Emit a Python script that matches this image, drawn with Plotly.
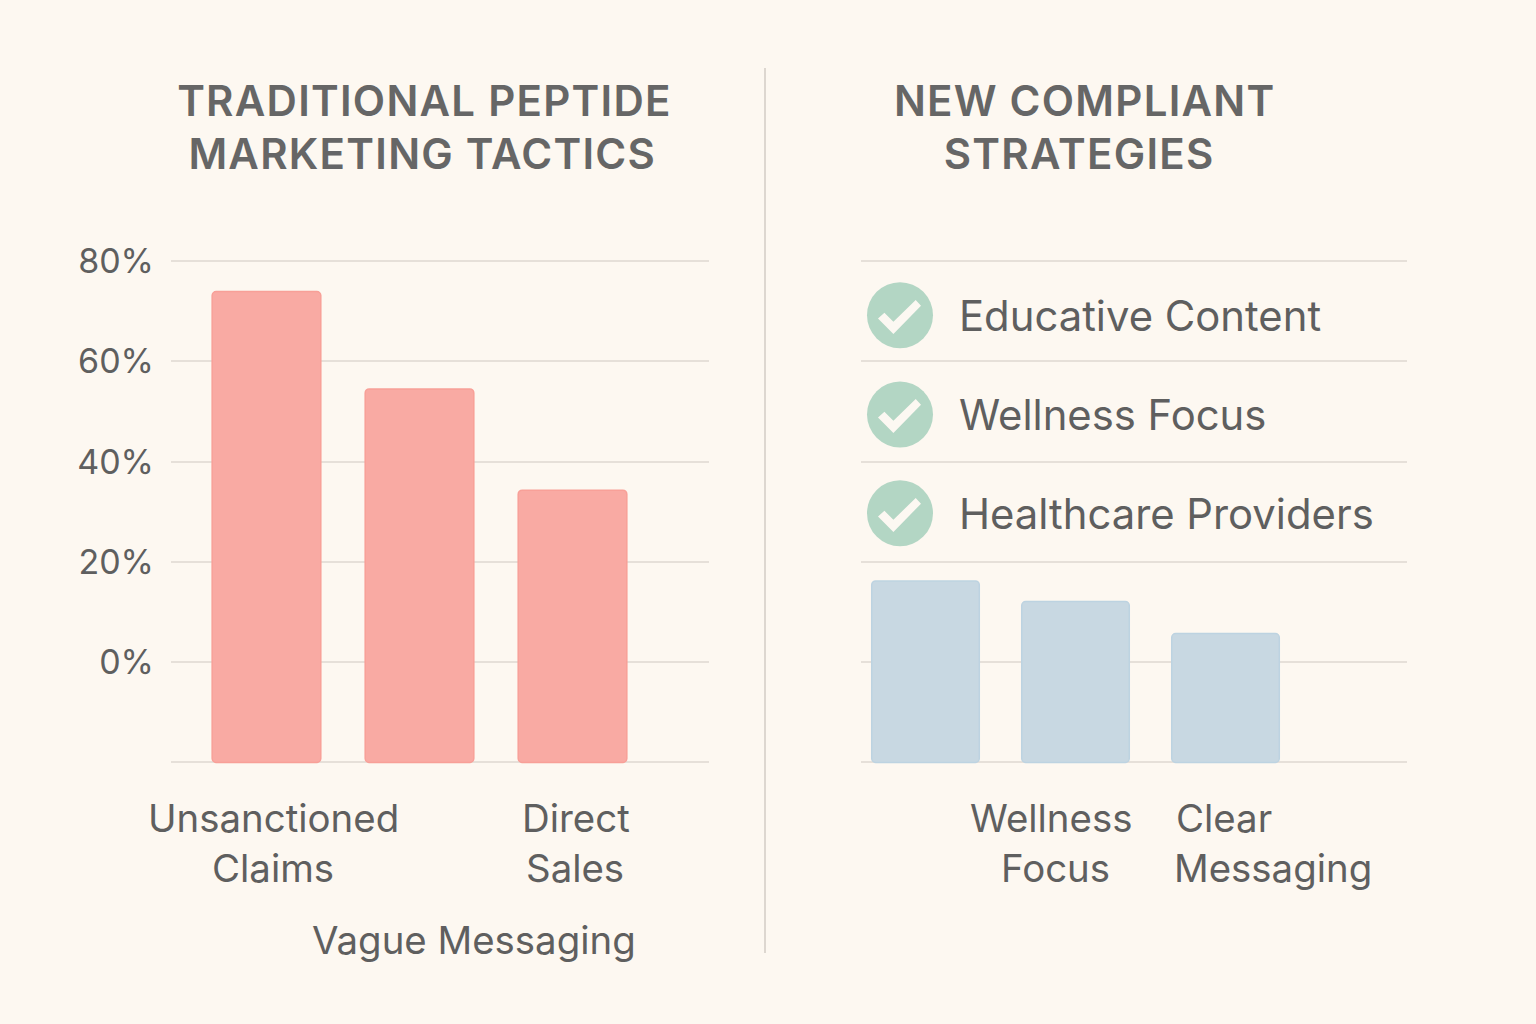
import plotly.graph_objects as go

# values
traditional_tactics = ["Unsanctioned Claims", "Vague Messaging", "Direct Sales"]
traditional_values = [73.9, 54.5, 34.3]
compliant_tactics = ["", "Wellness Focus", "Clear Messaging"]
compliant_values = [16.2, 12.1, 5.7]
strategies = ["Educative Content", "Wellness Focus", "Healthcare Providers"]
strategy_levels = [69.2, 49.4, 29.7]
tick_vals = [-20, 0, 20, 40, 60, 80]
tick_text = ["", "0%", "20%", "40%", "60%", "80%"]

W, H = 1536, 1024
BG = "#FDF8F1"
GRID = "#E6E0D9"
TEXT = "#5F5F5F"
FLOOR = -20


def px(x):
    return x / W


def py(y):
    return 1 - y / H


fig = go.Figure()

# left panel
fig.add_trace(go.Bar(
    x=[0, 1, 2], y=[v - FLOOR for v in traditional_values], base=FLOOR, width=0.71,
    marker=dict(color="#F9AAA3", line=dict(color="#F8A098", width=1.5)),
    text=traditional_tactics, textposition="none", hoverinfo="text+y",
    xaxis="x", yaxis="y",
))
# right panel
fig.add_trace(go.Bar(
    x=[0, 1, 2], y=[v - FLOOR for v in compliant_values], base=FLOOR, width=0.717,
    marker=dict(color="#C8D8E2", line=dict(color="#BDD3E1", width=1.5)),
    xaxis="x2", yaxis="y2",
))
# green circles of the checklist
fig.add_trace(go.Scatter(
    x=[-0.17] * len(strategies), y=strategy_levels, mode="markers",
    marker=dict(color="#B3D6C4", size=66, line=dict(width=0)),
    hovertext=strategies, hoverinfo="text",
    xaxis="x2", yaxis="y2",
))

y_range = [-22, 82]
y_domain = [py(772.5), py(251)]
fig.update_layout(
    width=W, height=H, margin=dict(l=0, r=0, t=0, b=0),
    paper_bgcolor=BG, plot_bgcolor=BG, showlegend=False, barcornerradius=4,
    font=dict(family="Inter", color=TEXT),
    xaxis=dict(domain=[px(171), px(709)], range=[-0.624, 2.892], visible=False, automargin=False),
    yaxis=dict(domain=y_domain, range=y_range, tickvals=tick_vals, ticktext=tick_text,
               gridcolor=GRID, gridwidth=2, zeroline=False, showline=False, automargin=False,
               ticks="", ticklabelstandoff=16, tickfont=dict(size=34, color=TEXT)),
    xaxis2=dict(domain=[px(861), px(1407)], range=[-0.43, 3.21], visible=False, automargin=False),
    yaxis2=dict(domain=y_domain, range=y_range, tickvals=tick_vals, showticklabels=False,
                gridcolor=GRID, gridwidth=2, zeroline=False, showline=False, ticks="",
                anchor="x2", automargin=False),
)

# divider between panels
fig.add_shape(type="line", xref="paper", yref="paper", x0=px(765), x1=px(765),
              y0=py(68), y1=py(953), line=dict(color="#DDD7D0", width=2))

# white ticks inside the circles
check = [(-21.7, 2.7), (-15.3, -3), (-6.3, 6), (16, -15.7), (21.3, -10), (-6.3, 18.3)]
for lvl_y in (315.7, 414.7, 513.7):
    path = "M " + " L ".join(f"{px(899.7 + a)} {py(lvl_y + b)}" for a, b in check) + " Z"
    fig.add_shape(type="path", xref="paper", yref="paper", path=path,
                  fillcolor="#FCF8F2", line=dict(width=0))


def label(text, x, y, size, **kw):
    fig.add_annotation(text=text, x=px(x), y=py(y), xref="paper", yref="paper",
                       showarrow=False, xanchor=kw.pop("xanchor", "center"), yanchor="middle",
                       font=dict(size=size, family="Inter", color=kw.pop("color", TEXT),
                                 weight=kw.pop("weight", 400)))


# panel titles
label("TRADITIONAL PEPTIDE", 424, 100, 42, weight=600, color="#666666")
label("MARKETING TACTICS", 422, 153, 42, weight=600, color="#666666")
label("NEW COMPLIANT", 1084, 100, 42, weight=600, color="#666666")
label("STRATEGIES", 1079, 153, 42, weight=600, color="#666666")

# category labels, placed by hand like in the picture
label("Unsanctioned", 273, 818, 38.4)
label("Claims", 273, 868, 38.4)
label("Direct", 576, 818, 38.4)
label("Sales", 575, 868, 38.4)
label("Vague Messaging", 474, 940, 38.4)
label("Wellness", 1051, 818, 38.4)
label("Focus", 1055, 868, 38.4)
label("Clear", 1174, 818, 38.4, xanchor="left")
label("Messaging", 1172, 868, 38.4, xanchor="left")

# checklist
for name, lvl_y in zip(strategies, (316, 415, 514)):
    label(name, 957, lvl_y, 41.8, xanchor="left")

post = """
document.body.style.margin = '0';
document.body.style.background = '%s';
function spaceTitles() {
  document.querySelectorAll('.annotation-text').forEach(function (t) {
    if (t.textContent === t.textContent.toUpperCase()) { t.style.letterSpacing = '1.25px'; }
  });
}
spaceTitles();
setTimeout(spaceTitles, 200);
""" % BG

fig.write_html("out.html", post_script=post, config={"displayModeBar": False})
